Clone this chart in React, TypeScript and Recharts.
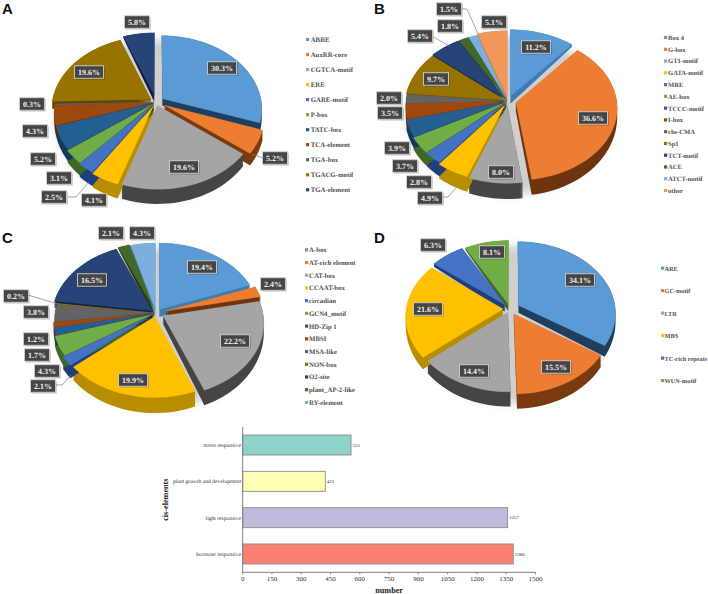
import React from 'react';
import { PieChart, Pie, Legend, BarChart, Bar, XAxis, YAxis, LabelList } from 'recharts';

const SERIF = '"Liberation Serif", serif';
const SANS = '"Liberation Sans", sans-serif';

// ---- data ----
const namesA = ['ABRE', 'AuxRR-core', 'CGTCA-motif', 'ERE', 'GARE-motif', 'P-box', 'TATC-box', 'TCA-element', 'TGA-box', 'TGACG-motif', 'TGA-element'];
const valuesA = [30.3, 5.2, 19.6, 4.1, 2.5, 3.1, 5.2, 4.3, 0.3, 19.6, 5.8];
const namesB = ['Box 4', 'G-box', 'GT1-motif', 'GATA-motif', 'MRE', 'AE-box', 'TCCC-motif', 'I-box', 'chs-CMA', 'Sp1', 'TCT-motif', 'ACE', 'ATCT-motif', 'other'];
const valuesB = [11.2, 36.6, 8.0, 4.9, 2.8, 3.7, 3.9, 3.5, 2.0, 9.7, 5.4, 1.8, 1.5, 5.1];
const namesC = ['A-box', 'AT-rich element', 'CAT-box', 'CCAAT-box', 'circadian', 'GCN4_motif', 'HD-Zip 1', 'MBSI', 'MSA-like', 'NON-box', 'O2-site', 'plant_AP-2-like', 'RY-element'];
const valuesC = [19.4, 2.4, 22.2, 19.9, 2.1, 4.3, 1.7, 1.2, 3.8, 0.2, 16.5, 2.1, 4.3];
const namesD = ['ARE', 'GC-motif', 'LTR', 'MBS', 'TC-rich repeats', 'WUN-motif'];
const valuesD = [34.1, 15.5, 14.4, 21.6, 6.3, 8.1];

const barCategories = ['stress responsive', 'plant growth and development', 'light responsive', 'hormone responsive'];
const barValues = [555, 423, 1357, 1386];
const barTicks = [0, 150, 300, 450, 600, 750, 900, 1050, 1200, 1350, 1500];

// ---- styles ----
const palette = ['#5B9BD5', '#ED7D31', '#A5A5A5', '#FFC000', '#4472C4', '#70AD47', '#255E91', '#9E480E', '#636363', '#997300', '#264478', '#43682B', '#7CAFDD', '#F1975A'];
const wallsDark = ['#1F3F5F', '#7A3A10', '#454545', '#B88E00', '#1F3F7A', '#3F6828', '#123A5C', '#5E2A06', '#3A3A3A', '#5C4600', '#0E2040', '#263D18', '#5A8FBF', '#C0744A'];
const wallsLight = ['#3E7CB1', '#6E3410', '#454545', '#B88E00', '#1F3F7A', '#3F6828', '#123A5C', '#5E2A06', '#3A3A3A', '#5C4600', '#0E2040', '#263D18', '#5A8FBF', '#C0744A'];
const barFills = ['#8DD3C7', '#FFFFB3', '#BEBADA', '#FB8072'];

const explodeA = [0.08, 0.09, 0.05, 0.05, 0.04, 0.03, 0.02, 0.02, 0.02, 0.06, 0.1];
const explodeB = [0.07, 0.08, 0.06, 0.05, 0.03, 0.03, 0.02, 0.01, 0.01, 0.02, 0.03, 0.03, 0.03, 0.05];
const explodeC = [0.06, 0.09, 0.08, 0.05, 0.05, 0.03, 0.02, 0.02, 0.01, 0.01, 0.05, 0.06, 0.05];
const explodeD = [0.1, 0.08, 0.05, 0.07, 0.08, 0.07];

type P = [number, number];
const labelPosA: P[] = [[222, 68], [275, 158], [184, 167], [94, 200], [54, 197], [59, 178], [43, 159], [35, 131], [32, 104], [89, 72], [137, 22]];
const labelPosB: P[] = [[536, 47], [593, 118], [501, 172], [430, 198], [419, 182], [405, 166], [397, 148], [390, 113], [389, 98], [436, 79], [420, 36], [450, 26], [449, 9], [494, 22]];
const labelPosC: P[] = [[202, 267], [273, 284], [235, 341], [133, 380], [43, 386], [47, 371], [37, 355], [36, 339], [36, 312], [16, 296], [92, 280], [111, 233], [142, 233]];
const labelPosD: P[] = [[580, 280], [556, 367], [474, 371], [428, 309], [433, 245], [492, 252]];

const connectorsA: Record<number, P[]> = { 1: [[252, 154], [263, 158]], 4: [[68, 197], [76, 197], [89, 182]] };
const connectorsB: Record<number, P[]> = { 3: [[443, 197], [448, 197], [456, 188]], 10: [[432, 36], [449, 46]], 12: [[462, 9], [467, 9], [478, 34]] };
const connectorsC: Record<number, P[]> = { 4: [[56, 385], [62, 385], [71, 375]], 9: [[28, 295], [58, 304]] };

interface Geo { cx: number; cy: number; rx: number; ry: number; persp: number; depth: number; left: number; top: number; }
const geoA: Geo = { cx: 156, cy: 102, rx: 99, ry: 72, persp: 0.13, depth: 7.5, left: 0, top: 0 };
const geoB: Geo = { cx: 508, cy: 101, rx: 101, ry: 72, persp: 0.07, depth: 8, left: 354, top: 0 };
const geoC: Geo = { cx: 156, cy: 313, rx: 100, ry: 73, persp: 0.09, depth: 8, left: 0, top: 215 };
const geoD: Geo = { cx: 510, cy: 309, rx: 97, ry: 71, persp: 0.1, depth: 7.5, left: 354, top: 215 };

const legendA = { x: 306, y: 39.7, step: 15.03, mark: 4.7, font: 6.8 };
const legendB = { x: 664, y: 37.7, step: 11.77, mark: 4, font: 6.6 };
const legendC = { x: 305, y: 250, step: 12.72, mark: 4, font: 6.8 };
const legendD = { x: 660.5, y: 268.3, step: 22.5, mark: 3.5, font: 6.3 };

const RAD = Math.PI / 180;

function polygon(geo: Geo, startAngle: number, endAngle: number, expl: number, t: number, full = false): string {
  const mid = ((startAngle + endAngle) / 2) * RAD;
  const ox = full ? 0 : expl * Math.cos(mid);
  const oy = full ? 0 : -expl * Math.sin(mid);
  const pts: [number, number][] = [];
  if (!full) pts.push([ox, oy]);
  const n = Math.max(2, Math.ceil(Math.abs(endAngle - startAngle) / 3));
  for (let i = 0; i <= n; i++) {
    const a = (startAngle + ((endAngle - startAngle) * i) / n) * RAD;
    pts.push([ox + Math.cos(a), oy - Math.sin(a)]);
  }
  const lcx = geo.cx - geo.left;
  const lcy = geo.cy - geo.top;
  return (
    pts
      .map(([x, y], i) => {
        const w = 1 - geo.persp * y;
        const d = geo.depth * Math.max(0.2, 1 + 0.9 * y) * t;
        const px = lcx + (geo.rx * x) / w;
        const py = lcy + (geo.ry * y) / w + d;
        return `${i ? 'L' : 'M'}${px.toFixed(2)} ${py.toFixed(2)}`;
      })
      .join('') + 'Z'
  );
}

function entryOf(props: any) {
  return { ...(props.payload || {}), ...props };
}

function PieShadow(geo: Geo, id: string) {
  return (props: any) => (
    <g>
      <defs>
        <filter id={id} x="-20%" y="-20%" width="140%" height="140%">
          <feGaussianBlur stdDeviation="4" />
        </filter>
      </defs>
      <path d={polygon(geo, props.startAngle, props.endAngle, 0, 1.05, true)} fill="#cfcfcf" filter={`url(#${id})`} />
    </g>
  );
}

function PieWall(geo: Geo) {
  return (props: any) => {
    const e = entryOf(props);
    const steps = 14;
    let d = '';
    for (let s = 1; s <= steps; s++) d += polygon(geo, e.startAngle, e.endAngle, e.explode, s / steps);
    return <path d={d} fill={e.wall} stroke="none" />;
  };
}

function PieTop(geo: Geo) {
  return (props: any) => {
    const e = entryOf(props);
    return <path d={polygon(geo, e.startAngle, e.endAngle, e.explode, 0)} fill={e.tone} stroke={e.tone} strokeWidth={0.2} />;
  };
}

function PieLabel(geo: Geo, positions: P[], connectors: Record<number, P[]>, values: number[]) {
  return (props: any) => {
    const i: number = props.index;
    const [x, y] = positions[i];
    const lx = x - geo.left;
    const ly = y - geo.top;
    const con = connectors[i];
    const w = values[i] >= 10 ? 29 : 25;
    const h = 12.5;
    return (
      <g key={i}>
        {con ? (
          <polyline
            points={con.map(([a, b]) => `${a - geo.left},${b - geo.top}`).join(' ')}
            fill="none"
            stroke="#7f7f7f"
            strokeWidth={0.7}
          />
        ) : null}
        <rect x={lx - w / 2 + 1.2} y={ly - h / 2 + 1.2} width={w} height={h} fill="#000" opacity={0.25} />
        <rect x={lx - w / 2} y={ly - h / 2} width={w} height={h} fill="#454545" stroke="#cfcfcf" strokeWidth={0.9} />
        <text
          x={lx}
          y={ly + 2.8}
          textAnchor="middle"
          fontFamily={SERIF}
          fontSize={8}
          fontWeight="bold"
          fill="#eeeeee"
          textRendering="geometricPrecision"
        >
          {values[i].toFixed(1)}%
        </text>
      </g>
    );
  };
}

function LegendList(geo: Geo, names: string[], lg: { x: number; y: number; step: number; mark: number; font: number }) {
  return () => (
    <svg
      width={120}
      height={210}
      style={{ position: 'absolute', left: lg.x - geo.left, top: 0, overflow: 'visible' }}
    >
      {names.map((n, i) => {
        const cy = lg.y - geo.top + i * lg.step;
        return (
          <g key={n}>
            <rect x={0} y={cy - 1.8} width={3.2} height={3.2} fill={palette[i]} />
            <text
              x={lg.mark}
              y={cy + 2.2}
              fontFamily={SERIF}
              fontSize={lg.font}
              fontWeight="bold"
              fill="#505050"
              textRendering="geometricPrecision"
            >
              {n}
            </text>
          </g>
        );
      })}
    </svg>
  );
}

function Pie3D({ names, values, explode, geo, positions, connectors, legend, id, walls }: any) {
  const rows = values.map((v: number, i: number) => ({
    name: names[i],
    value: v,
    tone: palette[i],
    wall: walls[i],
    explode: explode[i],
  }));
  const lcx = geo.cx - geo.left;
  const lcy = geo.cy - geo.top;
  const common = {
    dataKey: 'value',
    nameKey: 'name',
    cx: lcx,
    cy: lcy,
    innerRadius: 0,
    outerRadius: geo.rx,
    startAngle: 90,
    endAngle: -270,
    isAnimationActive: false,
    stroke: 'none',
    rootTabIndex: -1,
  };
  return (
    <div style={{ position: 'absolute', left: geo.left, top: geo.top }}>
      <PieChart width={354} height={215} margin={{ top: 0, right: 0, bottom: 0, left: 0 }}>
        <Pie {...common} data={[{ name: 'shadow', value: 100 }]} legendType="none" shape={PieShadow(geo, id)} />
        <Pie {...common} data={rows} legendType="none" shape={PieWall(geo)} />
        <Pie
          {...common}
          data={rows}
          shape={PieTop(geo)}
          labelLine={false}
          label={PieLabel(geo, positions, connectors, values)}
        />
        <Legend
          content={LegendList(geo, names, legend)}
          wrapperStyle={{ position: 'absolute', left: 0, top: 0, width: 354, height: 0 }}
        />
      </PieChart>
    </div>
  );
}

const letter = (t: string, left: number, top: number) => (
  <div
    style={{
      position: 'absolute',
      left,
      top,
      fontFamily: SANS,
      fontWeight: 'bold',
      fontSize: 15,
      lineHeight: '15px',
      color: '#111',
    }}
  >
    {t}
  </div>
);

const barRows = barCategories.map((c, i) => ({ name: c, value: barValues[i], tone: barFills[i] }));

function ToneBar(props: any) {
  const { x, y, width, height, payload, tone } = props;
  return (
    <rect x={x} y={y} width={width} height={height} fill={tone || payload?.tone} stroke="#8c8c8c" strokeWidth={0.9} />
  );
}

function CategoryTick(props: any) {
  return (
    <text
      x={props.x + 6.5}
      y={props.y + 2}
      textAnchor="end"
      fontFamily={SERIF}
      fontSize={5.6}
      fill="#333"
      textRendering="geometricPrecision"
    >
      {props.payload.value}
    </text>
  );
}

function YTitle(props: any) {
  const vb = props.viewBox || {};
  const x = 165.7 - 155;
  const y = vb.y + vb.height / 2;
  return (
    <text
      x={x}
      y={y}
      transform={`rotate(-90 ${x} ${y})`}
      textAnchor="middle"
      dominantBaseline="central"
      fontFamily={SERIF}
      fontSize={8.2}
      fontWeight="bold"
      fill="#222"
      textRendering="geometricPrecision"
    >
      cis-elements
    </text>
  );
}

export default function App() {
  return (
    <div style={{ position: 'absolute', left: 0, top: 0, width: 708, height: 594, overflow: 'hidden', background: '#fff' }}>
      <Pie3D id="sa" names={namesA} values={valuesA} explode={explodeA} geo={geoA} positions={labelPosA} connectors={connectorsA} legend={legendA} walls={wallsDark} />
      <Pie3D id="sb" names={namesB} values={valuesB} explode={explodeB} geo={geoB} positions={labelPosB} connectors={connectorsB} legend={legendB} walls={wallsLight} />
      <Pie3D id="sc" names={namesC} values={valuesC} explode={explodeC} geo={geoC} positions={labelPosC} connectors={connectorsC} legend={legendC} walls={wallsLight} />
      <Pie3D id="sd" names={namesD} values={valuesD} explode={explodeD} geo={geoD} positions={labelPosD} connectors={{}} legend={legendD} walls={wallsDark} />
      {letter('A', 2, 1)}
      {letter('B', 374, 1)}
      {letter('C', 2, 230)}
      {letter('D', 374, 230)}
      <div style={{ position: 'absolute', left: 155, top: 420 }}>
        <BarChart
          width={405}
          height={174}
          layout="vertical"
          data={barRows}
          margin={{ top: 7, right: 24.5, bottom: 6.7, left: 0 }}
        >
          <XAxis
            type="number"
            domain={[0, 1500]}
            ticks={barTicks}
            interval={0}
            height={15}
            tickSize={2}
            tick={{ fontFamily: SERIF, fontSize: 7, fill: '#333' }}
            axisLine={{ stroke: '#808080' }}
            tickLine={{ stroke: '#808080' }}
            label={{ value: 'number', position: 'bottom', offset: 0, fontFamily: SERIF, fontSize: 8.2, fontWeight: 'bold', fill: '#222' }}
          />
          <YAxis
            type="category"
            dataKey="name"
            width={87.7}
            interval={0}
            tickLine={false}
            tick={CategoryTick}
            axisLine={{ stroke: '#808080' }}
            label={YTitle}
          />
          <Bar dataKey="value" barSize={20} isAnimationActive={false} shape={ToneBar}>
            <LabelList dataKey="value" position="right" offset={1.5} style={{ fontFamily: SERIF, fontSize: 5, fill: '#333' }} />
          </Bar>
        </BarChart>
      </div>
    </div>
  );
}
